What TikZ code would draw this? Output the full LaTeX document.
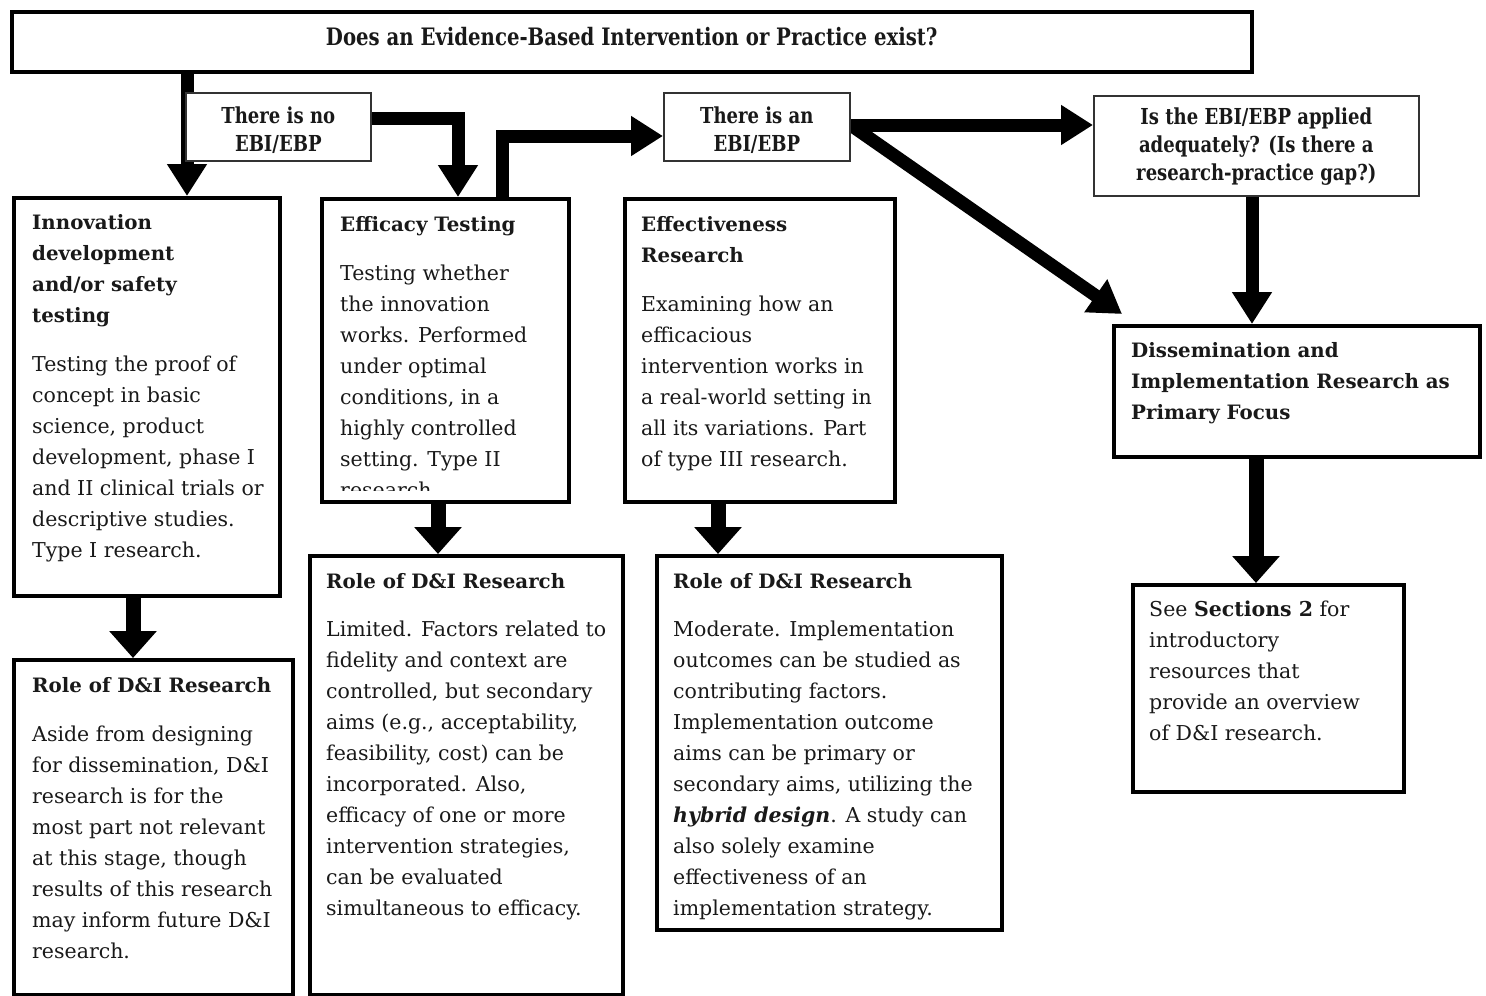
\documentclass[tikz,border=0pt]{standalone}
\usepackage{fontspec}
\setmainfont{DejaVu Serif}
\newfontfamily\condb{DejaVu Serif}[FakeStretch=0.82]
\usetikzlibrary{arrows.meta,calc,backgrounds}
\newcommand\hdfont{\fontsize{19.8}{31}\selectfont\bfseries}
\newcommand\bdfont{\fontsize{20.5}{31}\selectfont\mdseries}
\begin{document}
\begin{tikzpicture}[x=1pt,y=-1pt,
  thickbox/.style={draw=black,line width=3.5pt,fill=white,inner sep=0pt,anchor=north west},
  thinbox/.style={draw=black!80,line width=1.6pt,fill=white,inner sep=0pt,anchor=north west},
  fat/.style={line width=13pt,-{Triangle[width=38pt,length=32pt]}},
  down/.style={line width=15pt,-{Triangle[width=46pt,length=27pt]}},
  txt/.style={inner sep=0pt,anchor=base west,text=black!90,font=\fontsize{20.5}{31}\selectfont},
  lbl/.style={inner sep=0pt,align=center,text=black!90,font=\condb\bfseries\fontsize{22}{28}\selectfont}
]
\useasboundingbox (0,0) rectangle (1486,996);

% coordinates for connector positions
\coordinate (xa) at (187,0);
\coordinate (ya) at (0,118);
\coordinate (xb) at (458,0);
\coordinate (xc) at (502,0);
\coordinate (yc) at (0,136);
\coordinate (yd) at (0,125);
\coordinate (dtip) at (1122,314);
\coordinate (xe) at (1252,0);
\coordinate (xf) at (133,0);
\coordinate (xg) at (438,0);
\coordinate (xh) at (718,0);
\coordinate (xi) at (1256,0);

% boxes
\node[thickbox,minimum width=1240pt,minimum height=60pt] (top) at (10,10) {};
\node[thinbox,minimum width=185pt,minimum height=68pt] (no) at (185,92) {};
\node[thinbox,minimum width=186pt,minimum height=68pt] (an) at (663,92) {};
\node[thinbox,minimum width=325pt,minimum height=100pt] (gap) at (1093,95) {};
\node[thickbox,minimum width=266pt,minimum height=398pt] (innov) at (12,196) {};
\node[thickbox,minimum width=247pt,minimum height=303pt] (effic) at (320,197) {};
\node[thickbox,minimum width=270pt,minimum height=303pt] (effec) at (623,197) {};
\node[thickbox,minimum width=366pt,minimum height=131pt] (diss) at (1112,324) {};
\node[thickbox,minimum width=279pt,minimum height=335pt] (roleL) at (12,658) {};
\node[thickbox,minimum width=313pt,minimum height=439pt] (roleM) at (308,554) {};
\node[thickbox,minimum width=345pt,minimum height=374pt] (roleR) at (655,554) {};
\node[thickbox,minimum width=271pt,minimum height=207pt] (see) at (1131,583) {};

% connectors behind boxes
\begin{scope}[on background layer]
\fill[white] (0,0) rectangle (1486,996);
\draw[fat] (top.south -| xa) -- (innov.north -| xa);
\draw[fat] (no.east |- ya) -| (effic.north -| xb);
\draw[fat] (effic.north -| xc) |- (an.west |- yc);
\draw[fat] (an.east |- yd) -- (gap.west |- yd);
\draw[fat] (an.east |- yd) -- (dtip);
\draw[fat] (gap.south -| xe) -- (diss.north -| xe);
\draw[down] (innov.south -| xf) -- (roleL.north -| xf);
\draw[down] (effic.south -| xg) -- (roleM.north -| xg);
\draw[down] (effec.south -| xh) -- (roleR.north -| xh);
\draw[down] (diss.south -| xi) -- (see.north -| xi);
\end{scope}

% labels
\node[lbl,font=\condb\bfseries\fontsize{24}{28}\selectfont] (topT) at ($(top.center)+(0,-5)$) {Does an Evidence-Based Intervention or Practice exist?};
\node[lbl] (noT) at ($(no.center)+(0,3)$) {There is no\\EBI/EBP};
\node[lbl] (anT) at ($(an.center)+(0,3)$) {There is an\\EBI/EBP};
\node[lbl] (gapT) at ($(gap.center)+(0,1)$) {Is the EBI/EBP applied\\adequately? (Is there a\\research-practice gap?)};

% box texts
\node[txt] (innovT) at (32,229) {\parbox[t]{245pt}{\raggedright\hdfont Innovation\\development\\and/or safety\\testing\\[18pt]\bdfont Testing the proof of\\concept in basic\\science, product\\development, phase I\\and II clinical trials or\\descriptive studies.\\Type I research.}};

\begin{scope}
\clip (322,199) rectangle (565,490);
\node[txt] (efficT) at (340,231) {\parbox[t]{225pt}{\raggedright\hdfont Efficacy Testing\\[18pt]\bdfont Testing whether\\the innovation\\works. Performed\\under optimal\\conditions, in a\\highly controlled\\setting. Type II\\research}};
\end{scope}

\node[txt] (effecT) at (641,231) {\parbox[t]{250pt}{\raggedright\hdfont Effectiveness\\Research\\[18pt]\bdfont Examining how an\\efficacious\\intervention works in\\a real-world setting in\\all its variations. Part\\of type III research.}};

\node[txt] (dissT) at (1131,357) {\parbox[t]{345pt}{\raggedright\hdfont Dissemination and\\Implementation Research as\\Primary Focus}};

\node[txt] (roleLT) at (32,692) {\parbox[t]{255pt}{\raggedright\hdfont Role of D\&I Research\\[18pt]\bdfont Aside from designing\\for dissemination, D\&I\\research is for the\\most part not relevant\\at this stage, though\\results of this research\\may inform future D\&I\\research.}};

\node[txt] (roleMT) at (326,588) {\parbox[t]{290pt}{\raggedright\hdfont Role of D\&I Research\\[17pt]\bdfont Limited. Factors related to\\fidelity and context are\\controlled, but secondary\\aims (e.g., acceptability,\\feasibility, cost) can be\\incorporated. Also,\\efficacy of one or more\\intervention strategies,\\can be evaluated\\simultaneous to efficacy.}};

\node[txt] (roleRT) at (673,588) {\parbox[t]{320pt}{\raggedright\hdfont Role of D\&I Research\\[17pt]\bdfont Moderate. Implementation\\outcomes can be studied as\\contributing factors.\\Implementation outcome\\aims can be primary or\\secondary aims, utilizing the\\\textbf{\textit{hybrid design}}. A study can\\also solely examine\\effectiveness of an\\implementation strategy.}};

\node[txt] (seeT) at (1149,616) {\parbox[t]{250pt}{\raggedright\bdfont See \textbf{Sections 2} for\\introductory\\resources that\\provide an overview\\of D\&I research.}};
\end{tikzpicture}
\end{document}
